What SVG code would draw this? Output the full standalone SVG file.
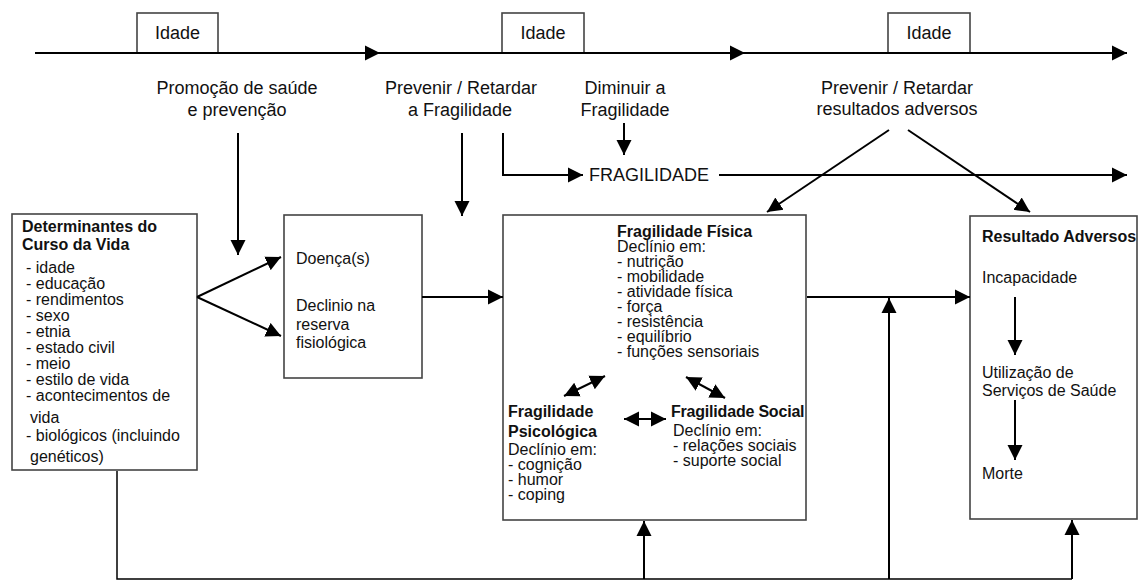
<svg xmlns="http://www.w3.org/2000/svg" width="1142" height="581" viewBox="0 0 1142 581">
<style>
text{font-family:"Liberation Sans",Arial,sans-serif;fill:#111;}
.t18{font-size:18px;}
.t16{font-size:16px;}
.b{font-weight:bold;}
.box{fill:#fff;stroke:#444;stroke-width:1.6;}
.c{fill:none;stroke:#000;stroke-width:2;}
.c1{fill:none;stroke:#000;stroke-width:1.5;}
</style>
<defs>
<marker id="ah" markerUnits="userSpaceOnUse" markerWidth="16" markerHeight="16" viewBox="0 0 16 16" refX="15" refY="8" orient="auto">
<path d="M0,0.5 L15,8 L0,15.5 z" fill="#000"/>
</marker>
<marker id="as" markerUnits="userSpaceOnUse" markerWidth="16" markerHeight="16" viewBox="0 0 16 16" refX="15" refY="8" orient="auto-start-reverse">
<path d="M0,0.5 L15,8 L0,15.5 z" fill="#000"/>
</marker>
</defs>

<g id="idade1"><rect class="box" x="137" y="13" width="81" height="40"/><text class="t18" x="177.5" y="39" text-anchor="middle">Idade</text></g>
<g id="idade2"><rect class="box" x="502" y="13" width="82" height="40"/><text class="t18" x="543" y="39" text-anchor="middle">Idade</text></g>
<g id="idade3"><rect class="box" x="888" y="13" width="82" height="40"/><text class="t18" x="929" y="39" text-anchor="middle">Idade</text></g>

<g id="lbl-promocao"><text class="t18" text-anchor="middle"><tspan x="237" y="94">Promoção de saúde</tspan><tspan x="237" y="116">e prevenção</tspan></text></g>
<g id="lbl-prevenir1"><text class="t18" text-anchor="middle"><tspan x="461" y="94">Prevenir / Retardar</tspan><tspan x="460" y="116">a Fragilidade</tspan></text></g>
<g id="lbl-diminuir"><text class="t18" text-anchor="middle"><tspan x="625" y="94">Diminuir a</tspan><tspan x="625" y="116">Fragilidade</tspan></text></g>
<g id="lbl-prevenir2"><text class="t18" text-anchor="middle"><tspan x="897" y="94">Prevenir / Retardar</tspan><tspan x="897" y="115">resultados adversos</tspan></text></g>
<g id="fragilidade"><text class="t18" x="589" y="181">FRAGILIDADE</text></g>

<g id="determinantes">
<rect class="box" x="12" y="214" width="185" height="256"/>
<text class="t16 b" x="22" y="232">Determinantes do</text>
<text class="t16 b" x="22" y="250">Curso da Vida</text>
<text class="t16">
<tspan x="26" y="273">- idade</tspan>
<tspan x="26" y="289">- educação</tspan>
<tspan x="26" y="305">- rendimentos</tspan>
<tspan x="26" y="321">- sexo</tspan>
<tspan x="26" y="337">- etnia</tspan>
<tspan x="26" y="353">- estado civil</tspan>
<tspan x="26" y="369">- meio</tspan>
<tspan x="26" y="385">- estilo de vida</tspan>
<tspan x="26" y="401">- acontecimentos de</tspan>
<tspan x="30" y="423">vida</tspan>
<tspan x="26" y="441">- biológicos (incluindo</tspan>
<tspan x="30" y="462">genéticos)</tspan>
</text>
</g>

<g id="doenca">
<rect class="box" x="284" y="215" width="138" height="163"/>
<text class="t16" x="296" y="264">Doença(s)</text>
<text class="t16"><tspan x="296" y="311">Declinio na</tspan><tspan x="296" y="330">reserva</tspan><tspan x="296" y="348">fisiológica</tspan></text>
</g>

<g id="fragilidades">
<rect class="box" x="503" y="215" width="303" height="305"/>
<text class="t16 b" x="617" y="237">Fragilidade Física</text>
<text class="t16">
<tspan x="617" y="252">Declínio em:</tspan>
<tspan x="617" y="267">- nutrição</tspan>
<tspan x="617" y="282">- mobilidade</tspan>
<tspan x="617" y="297">- atividade física</tspan>
<tspan x="617" y="312">- força</tspan>
<tspan x="617" y="327">- resistência</tspan>
<tspan x="617" y="342">- equilíbrio</tspan>
<tspan x="617" y="357">- funções sensoriais</tspan>
</text>
<text class="t16 b" x="508" y="417">Fragilidade</text>
<text class="t16 b" x="508" y="437">Psicológica</text>
<text class="t16">
<tspan x="508" y="455">Declínio em:</tspan>
<tspan x="508" y="470">- cognição</tspan>
<tspan x="508" y="485">- humor</tspan>
<tspan x="508" y="500">- coping</tspan>
</text>
<text class="t16 b" x="671" y="417" letter-spacing="-0.2">Fragilidade Social</text>
<text class="t16">
<tspan x="673" y="436">Declínio em:</tspan>
<tspan x="673" y="451">- relações sociais</tspan>
<tspan x="673" y="466">- suporte social</tspan>
</text>
</g>

<g id="resultados">
<rect class="box" x="970" y="216" width="167" height="303"/>
<text class="t16 b" x="982" y="242">Resultado Adversos</text>
<text class="t16" x="982" y="283">Incapacidade</text>
<text class="t16"><tspan x="982" y="378">Utilização de</tspan><tspan x="982" y="396">Serviços de Saúde</tspan></text>
<text class="t16" x="982" y="479">Morte</text>
</g>

<g id="connectors">
<path class="c" d="M35,53 H380" marker-end="url(#ah)"/>
<path class="c" d="M380,53 H745" marker-end="url(#ah)"/>
<path class="c" d="M745,53 H1127" marker-end="url(#ah)"/>
<path class="c" d="M238,133 V255" marker-end="url(#ah)"/>
<path class="c" d="M462,133 V216" marker-end="url(#ah)"/>
<path class="c" d="M503,133 V175 H583" marker-end="url(#ah)"/>
<path class="c" d="M624,123 V155" marker-end="url(#ah)"/>
<path class="c" d="M719,175 H1127" marker-end="url(#ah)"/>
<path class="c" d="M889,130 L767,212" marker-end="url(#ah)"/>
<path class="c" d="M908,130 L1030,212" marker-end="url(#ah)"/>
<path class="c" d="M197,297 L281,257" marker-end="url(#ah)"/>
<path class="c" d="M197,297 L281,336" marker-end="url(#ah)"/>
<path class="c" d="M422,297 H503" marker-end="url(#ah)"/>
<path class="c" d="M807,297 H970" marker-end="url(#ah)"/>
<path class="c1" d="M117,471 V579 H1072"/>
<path class="c" d="M644,579 V521" marker-end="url(#ah)"/>
<path class="c" d="M889,579 V298" marker-end="url(#ah)"/>
<path class="c" d="M1072,579 V520" marker-end="url(#ah)"/>
<path class="c" d="M1015,297 V355" marker-end="url(#ah)"/>
<path class="c" d="M1015,400 V460" marker-end="url(#ah)"/>
<path class="c" d="M564,396 L605,376" marker-start="url(#as)" marker-end="url(#as)"/>
<path class="c" d="M686,377 L725,398" marker-start="url(#as)" marker-end="url(#as)"/>
<path class="c" d="M624,419 H666" marker-start="url(#as)" marker-end="url(#as)"/>
</g>
</svg>
